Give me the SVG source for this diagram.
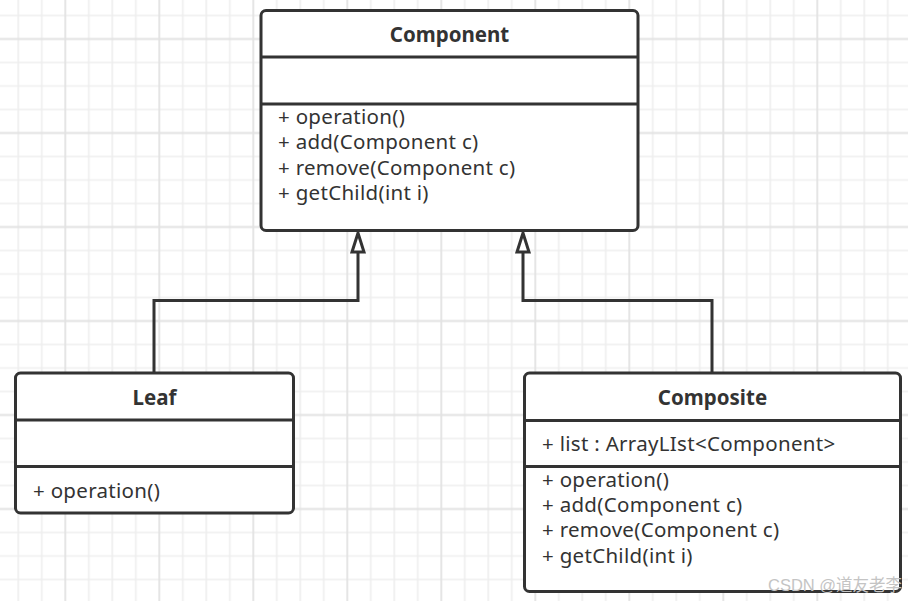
<svg xmlns="http://www.w3.org/2000/svg" width="908" height="601" viewBox="0 0 908 601">
<style>
.box{fill:#fff;stroke:#333;stroke-width:3}
.div{stroke:#333;stroke-width:3;fill:none}
.title{font-family:"Noto Sans","Open Sans","DejaVu Sans",sans-serif;font-weight:bold;font-size:20.5px;fill:#333;text-anchor:middle}
.mem{font-family:"Noto Sans","Open Sans","DejaVu Sans",sans-serif;font-size:20.5px;letter-spacing:0.3px;fill:#333}
.conn{stroke:#333;stroke-width:3;fill:none}
.wm{font-family:"Liberation Sans","Noto Sans CJK SC",sans-serif;font-size:16.5px;fill:#c4c4c4}
</style>
<defs>
<pattern id="grid" x="8.3" y="5.5" width="94" height="94" patternUnits="userSpaceOnUse">
<g stroke="#eeeeee" stroke-width="1.6">
<line x1="10" y1="0" x2="10" y2="94"/>
<line x1="33.5" y1="0" x2="33.5" y2="94"/>
<line x1="80.5" y1="0" x2="80.5" y2="94"/>
<line x1="0" y1="10" x2="94" y2="10"/>
<line x1="0" y1="57" x2="94" y2="57"/>
<line x1="0" y1="80.5" x2="94" y2="80.5"/>
</g>
<g stroke="#e2e2e2" stroke-width="1.8">
<line x1="57" y1="0" x2="57" y2="94"/>
<line x1="0" y1="33.5" x2="94" y2="33.5"/>
</g>
</pattern>
<marker id="tri" markerUnits="userSpaceOnUse" orient="auto" refX="0" refY="0" markerWidth="30" markerHeight="30" overflow="visible">
<path d="M0,-6 L19,0 L0,6 Z" fill="#fff" stroke="#333" stroke-width="3" stroke-linejoin="miter"/>
</marker>
</defs>
<rect width="908" height="601" fill="#fff"/>
<rect width="908" height="601" fill="url(#grid)"/>

<g id="connectors">
<path class="conn" d="M154,373 V300.5 H358 V252" marker-end="url(#tri)"/>
<path class="conn" d="M712,373 V300.5 H523 V252" marker-end="url(#tri)"/>
</g>

<g id="component">
<rect class="box" x="261" y="10.5" width="377" height="220" rx="5"/>
<line class="div" x1="261" y1="57" x2="638" y2="57"/>
<line class="div" x1="261" y1="104" x2="638" y2="104"/>
<text class="title" x="449.5" y="42">Component</text>
<text class="mem" x="278" y="124">+ operation()</text>
<text class="mem" x="278" y="149.3">+ add(Component c)</text>
<text class="mem" x="278" y="174.7">+ remove(Component c)</text>
<text class="mem" x="278" y="200">+ getChild(int i)</text>
</g>

<g id="leaf">
<rect class="box" x="15.5" y="373" width="278" height="140" rx="5"/>
<line class="div" x1="15.5" y1="420" x2="293.5" y2="420"/>
<line class="div" x1="15.5" y1="466.5" x2="293.5" y2="466.5"/>
<text class="title" x="154.5" y="404.5">Leaf</text>
<text class="mem" x="33" y="497.7">+ operation()</text>
</g>

<g id="composite">
<rect class="box" x="524.5" y="373" width="376" height="218.5" rx="5"/>
<line class="div" x1="524.5" y1="420.5" x2="900.5" y2="420.5"/>
<line class="div" x1="524.5" y1="466.5" x2="900.5" y2="466.5"/>
<text class="title" x="712.5" y="404.5">Composite</text>
<text class="mem" x="542" y="450.7">+ list : ArrayLIst&lt;Component&gt;</text>
<text class="mem" x="542" y="486.8">+ operation()</text>
<text class="mem" x="542" y="512.1">+ add(Component c)</text>
<text class="mem" x="542" y="537.4">+ remove(Component c)</text>
<text class="mem" x="542" y="562.7">+ getChild(int i)</text>
</g>

<text class="wm" x="768" y="591">CSDN @道友老李</text>
</svg>
